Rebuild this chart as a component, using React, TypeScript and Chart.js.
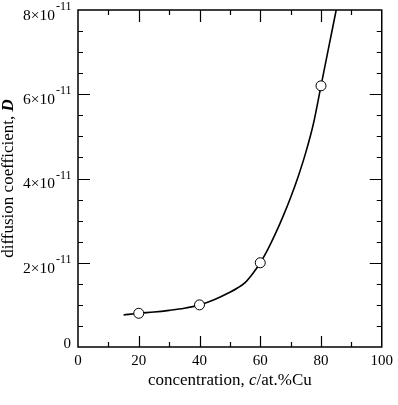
import React, { useEffect, useRef } from 'react';
import { Chart, registerables } from 'chart.js';

Chart.register(...registerables);

// measured samples (concentration at.% Cu, diffusion coefficient D)
const sampleConc = [20, 40, 60, 80];
const sampleD = [0.8e-11, 1.0e-11, 2.0e-11, 6.2e-11];

// fitted curve
const curveConc = [15, 20, 25, 30, 35, 40, 45, 50, 52.5, 55, 57.5, 60, 62.5, 65, 67.5, 70, 72.5, 75, 77.5, 80, 82.5, 85, 87];
const curveD = [
  0.76e-11, 0.8e-11, 0.83e-11, 0.87e-11, 0.92e-11, 1.0e-11, 1.13e-11, 1.3e-11, 1.4e-11, 1.53e-11, 1.74e-11, 2.0e-11,
  2.32e-11, 2.69e-11, 3.1e-11, 3.55e-11, 4.05e-11, 4.62e-11, 5.3e-11, 6.2e-11, 7.1e-11, 8.0e-11, 8.7e-11,
];

// axes
const xMin = 0;
const xMax = 100;
const xLabelStep = 20;
const xTickMinor = [10, 20, 30, 40, 50, 60, 70, 80, 90];
const yMin = 0;
const yMax = 8e-11;
const yTickMinor = [0.5e-11, 1e-11, 1.5e-11, 2e-11, 2.5e-11, 3e-11, 3.5e-11, 4e-11, 4.5e-11, 5e-11, 5.5e-11, 6e-11, 6.5e-11, 7e-11, 7.5e-11];
const yLabelValues = [0, 2e-11, 4e-11, 6e-11, 8e-11];
const yLabelMantissa = ['0', '2', '4', '6', '8'];
const yLabelExponent = '-11';

const xTitleParts: [string, string][] = [
  ['concentration, ', 'normal'],
  ['c', 'italic'],
  ['/at.%Cu', 'normal'],
];
const yTitleParts: [string, string][] = [
  ['diffusion coefficient, ', 'normal'],
  ['D', 'italic bold'],
];

const SERIF = '"Liberation Serif", "DejaVu Serif", serif';

function drawParts(ctx: CanvasRenderingContext2D, parts: [string, string][], size: number, cx: number, cy: number) {
  let total = 0;
  const widths = parts.map(([t, s]) => {
    ctx.font = `${s} ${size}px ${SERIF}`;
    const w = ctx.measureText(t).width;
    total += w;
    return w;
  });
  let x = cx - total / 2;
  parts.forEach(([t, s], i) => {
    ctx.font = `${s} ${size}px ${SERIF}`;
    ctx.fillText(t, x, cy);
    x += widths[i];
  });
}

const framePlugin = {
  id: 'frameTicks',
  afterDatasetsDraw(chart: any) {
    const { ctx, chartArea: a, scales } = chart;
    const xs = scales.x;
    const ys = scales.y;
    ctx.save();
    ctx.strokeStyle = '#000';
    ctx.fillStyle = '#000';
    ctx.lineWidth = 1.5;
    ctx.strokeRect(a.left, a.top, a.right - a.left, a.bottom - a.top);

    ctx.lineWidth = 1.2;
    ctx.beginPath();
    xTickMinor.forEach((v) => {
      const px = Math.round(xs.getPixelForValue(v)) + 0.5;
      const major = v % xLabelStep === 0;
      const lb = major ? 11 : 5;
      const lt = major ? 12 : 5;
      ctx.moveTo(px, a.bottom);
      ctx.lineTo(px, a.bottom - lb);
      ctx.moveTo(px, a.top);
      ctx.lineTo(px, a.top + lt);
    });
    yTickMinor.forEach((v) => {
      const py = Math.round(ys.getPixelForValue(v)) + 0.5;
      const major = yLabelValues.some((m) => Math.abs(m - v) < 1e-15);
      const len = major ? 12 : 5;
      ctx.moveTo(a.left, py);
      ctx.lineTo(a.left + len, py);
      ctx.moveTo(a.right, py);
      ctx.lineTo(a.right - len, py);
    });
    ctx.stroke();

    // y tick labels with superscript exponent
    yLabelValues.forEach((v, i) => {
      const py = ys.getPixelForValue(v);
      if (v === 0) {
        ctx.font = `15px ${SERIF}`;
        ctx.textAlign = 'right';
        ctx.textBaseline = 'alphabetic';
        ctx.fillText(yLabelMantissa[i], 71, py + 1);
        return;
      }
      ctx.font = `15.5px ${SERIF}`;
      ctx.textAlign = 'right';
      ctx.textBaseline = 'top';
      ctx.fillText(`${yLabelMantissa[i]}×10`, 55, py - 2);
      ctx.font = `12px ${SERIF}`;
      ctx.textAlign = 'left';
      ctx.textBaseline = 'alphabetic';
      ctx.fillText(yLabelExponent, 56, py);
    });

    // axis titles
    ctx.textAlign = 'left';
    ctx.textBaseline = 'alphabetic';
    drawParts(ctx, xTitleParts, 17, (a.left + a.right) / 2, 385);

    ctx.save();
    ctx.translate(13, 178.5);
    ctx.rotate(-Math.PI / 2);
    drawParts(ctx, yTitleParts, 17, 0, 0);
    ctx.restore();

    ctx.restore();
  },
};

export default function App() {
  const ref = useRef<HTMLCanvasElement | null>(null);

  useEffect(() => {
    document.body.style.margin = '0';
    const canvas = ref.current;
    if (!canvas) return;
    const chart = new Chart(canvas, {
      type: 'line',
      data: {
        datasets: [
          {
            label: 'samples',
            data: sampleConc.map((c, i) => ({ x: c, y: sampleD[i] })),
            showLine: false,
            pointRadius: 5,
            pointBackgroundColor: '#fff',
            pointBorderColor: '#000',
            pointBorderWidth: 1,
            borderColor: '#000',
          },
          {
            label: 'curve',
            data: curveConc.map((c, i) => ({ x: c, y: curveD[i] })),
            borderColor: '#000',
            borderWidth: 1.6,
            pointRadius: 0,
            cubicInterpolationMode: 'monotone',
            fill: false,
          },
        ],
      },
      options: {
        animation: false,
        responsive: false,
        devicePixelRatio: 1,
        layout: { padding: { top: 10, right: 15, left: 0, bottom: 0 } },
        plugins: { legend: { display: false }, tooltip: { enabled: false } },
        scales: {
          x: {
            type: 'linear',
            min: xMin,
            max: xMax,
            grid: { display: false, drawTicks: false },
            border: { display: false },
            ticks: {
              stepSize: xLabelStep,
              autoSkip: false,
              maxRotation: 0,
              padding: 5,
              color: '#000',
              font: { family: SERIF, size: 15 },
            },
            afterFit: (s: any) => {
              s.height = 58;
            },
          },
          y: {
            type: 'linear',
            min: yMin,
            max: yMax,
            grid: { display: false, drawTicks: false },
            border: { display: false },
            ticks: { display: false },
            afterFit: (s: any) => {
              s.width = 78;
            },
          },
        },
      },
      plugins: [framePlugin],
    } as any);
    return () => chart.destroy();
  }, []);

  return <canvas ref={ref} width={398} height={405} style={{ display: 'block' }} />;
}
